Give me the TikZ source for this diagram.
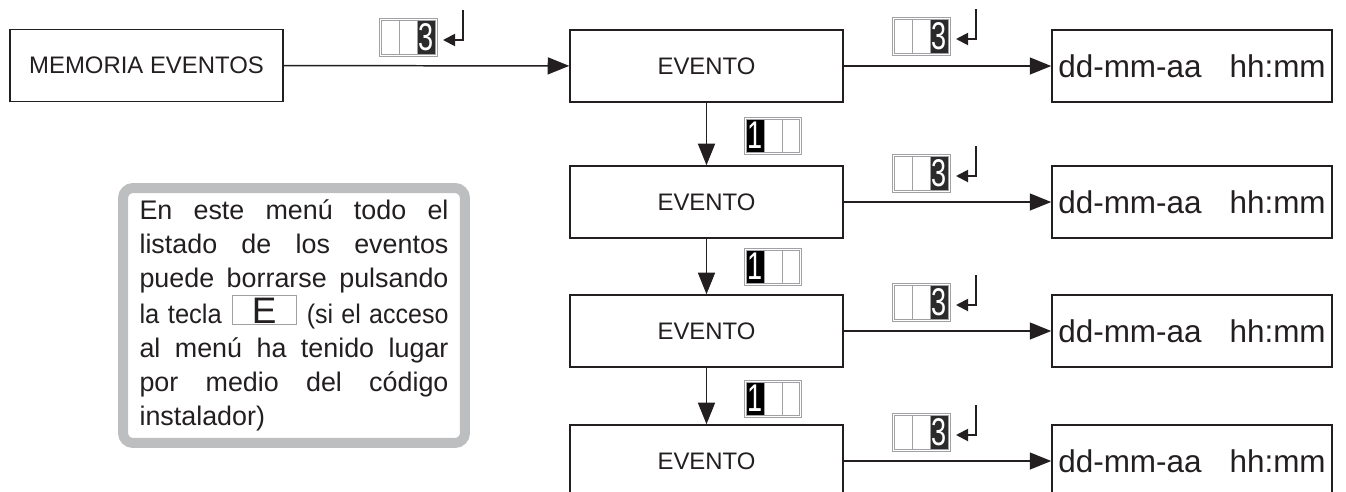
\documentclass[tikz,border=0pt]{standalone}
\usepackage{fontspec}
\setmainfont{Liberation Sans}
\usetikzlibrary{arrows.meta}
\definecolor{ink}{HTML}{231F20}
\definecolor{notegray}{HTML}{BCBEC0}
\definecolor{keygray}{HTML}{9FA1A4}
\definecolor{keydark}{HTML}{2B2B2B}
\setlength{\fboxsep}{0pt}
\setlength{\fboxrule}{0.5pt}

\tikzset{
  box/.style={draw=ink, line width=0.9pt, minimum width=5.46cm, minimum height=1.44cm,
    inner sep=0pt, text=ink, font=\fontsize{13.6}{16}\selectfont},
  datebox/.style={box, minimum width=5.6cm, font=\fontsize{17.9}{21}\selectfont},
  conn/.style={draw=ink, line width=0.85pt, -{Triangle[length=0.43cm,width=0.34cm]}},
  enter/.style={draw=ink, line width=1.1pt, -{Triangle[length=0.24cm,width=0.24cm]}},
  keyline/.style={draw=keygray, line width=0.5pt},
  digit/.style={text=white, inner sep=0pt, font=\fontsize{22}{22}\selectfont},
  note/.style={draw=notegray, line width=0.2cm, rounded corners=0.2cm,
    minimum width=6.84cm, minimum height=5.1cm, inner sep=0pt,
    text width=6.18cm, align=left, text=ink, font=\fontsize{15.3}{19.4}\selectfont},
  % key "3" followed by enter
  keythree/.pic={
    \draw[keyline] (0,0) rectangle (58,38);
    \fill[keydark] (38,2) rectangle (56,36);
    \draw[keyline] (2,2) rectangle (56,36) (20,2) -- (20,36) (38,2) -- (38,36);
    \node[digit] (-d) at (47,19) {\scalebox{0.7}[1]{3}};
    \coordinate (-up) at (84,-8);
    \coordinate (-tip) at (64,22);
    \draw[enter] (-up) |- (-tip);
  },
  % key "1"
  keyone/.pic={
    \draw[keyline] (0,0) rectangle (57,37);
    \fill[black] (2,2) rectangle (20,35);
    \draw[keyline] (2,2) rectangle (55,35) (20,2) -- (20,35) (38,2) -- (38,35);
    \node[digit] (-d) at (11,18.5) {\scalebox{0.7}[1]{1}};
  },
}

\begin{document}
\begin{tikzpicture}[x=0.02cm, y=-0.02cm]
	 \useasboundingbox (0,0) rectangle (1346,491);

	 %Menu
	 \node[box] (mem) at (146.5,65.5) {MEMORIA EVENTOS};
	 \node[box] (ev1) at (706.5,66) {EVENTO};
	 \node[box] (ev2) at (706.5,202) {EVENTO};
	 \node[box] (ev3) at (706.5,331) {EVENTO};
	 \node[box] (ev4) at (706.5,461) {EVENTO};

	 \node[datebox] (dt1) at (1192,66) {dd-mm-aa\hspace{0.56cm}hh:mm};
	 \node[datebox] (dt2) at (1192,202) {dd-mm-aa\hspace{0.56cm}hh:mm};
	 \node[datebox] (dt3) at (1192,331) {dd-mm-aa\hspace{0.56cm}hh:mm};
	 \node[datebox] (dt4) at (1192,461) {dd-mm-aa\hspace{0.56cm}hh:mm};

	 \draw[conn] (mem) -- (ev1);
	 \draw[conn] (ev1) -- (ev2);
	 \draw[conn] (ev2) -- (ev3);
	 \draw[conn] (ev3) -- (ev4);
	 \draw[conn] (ev1) -- (dt1);
	 \draw[conn] (ev2) -- (dt2);
	 \draw[conn] (ev3) -- (dt3);
	 \draw[conn] (ev4) -- (dt4);

	 %Keys
	 \pic (k0) at (379,18) {keythree};
	 \pic (k1) at (892,17) {keythree};
	 \pic (k2) at (892,154) {keythree};
	 \pic (k3) at (892,283) {keythree};
	 \pic (k4) at (892,413) {keythree};

	 \pic (u1) at (744,117) {keyone};
	 \pic (u2) at (744,248) {keyone};
	 \pic (u3) at (744,380) {keyone};

	 %Note
	 \node[note] (memo) at (294,315.5) {%
	   \makebox[6.18cm][s]{En\hfill este\hfill menú\hfill todo\hfill el}\\
	   \makebox[6.18cm][s]{listado\hfill de\hfill los\hfill eventos}\\
	   \makebox[6.18cm][s]{puede\hfill borrarse\hfill pulsando}\\
	   \makebox[6.18cm][s]{\scalebox{0.95}[1]{la tecla}\hspace{0.2cm}\fcolorbox{keygray}{white}{\makebox[1.26cm]{\rule{0pt}{0.56cm}\fontsize{21}{21}\selectfont E}}\hfill\scalebox{0.93}[1]{(si el acceso}}\\
	   \makebox[6.18cm][s]{al\hfill menú\hfill ha\hfill tenido\hfill lugar}\\
	   \makebox[6.18cm][s]{por\hfill medio\hfill del\hfill código}\\
	   instalador)};
\end{tikzpicture}
\end{document}
